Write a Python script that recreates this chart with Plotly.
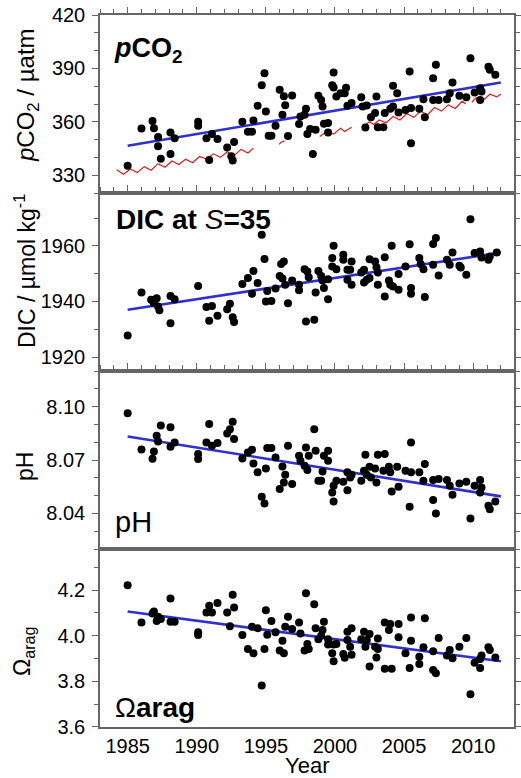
import plotly.graph_objects as go

FONT = "Liberation Sans, Arial, sans-serif"

# ---------------- data ----------------
pco2_year = [1985.0, 1986.0, 1986.8, 1986.9, 1987.2, 1987.2, 1987.4, 1988.1, 1988.4, 1988.1,
             1990.1, 1990.1, 1990.7, 1990.9, 1991.1, 1991.5, 1992.2, 1992.5, 1992.6, 1992.7,
             1993.3, 1993.7, 1994.0, 1994.1, 1994.4, 1994.7, 1994.9, 1995.0, 1995.2, 1995.4,
             1995.7, 1996.0, 1996.2, 1996.3, 1996.4, 1996.6, 1996.9, 1997.5, 1997.4, 1997.9,
             1997.8, 1998.0, 1998.2, 1998.4, 1998.6, 1998.8, 1999.0, 1999.1, 1999.2, 1999.5,
             1999.5, 1999.9, 1999.8, 1999.9, 2000.1, 2000.4, 2000.8, 2000.7, 2000.9, 2001.2,
             2001.9, 2002.0, 2002.2, 2002.3, 2002.6, 2002.9, 2003.0, 2003.1, 2003.5, 2003.6,
             2004.0, 2004.2, 2004.2, 2004.5, 2004.6, 2005.1, 2005.4, 2005.5, 2005.5, 2006.1,
             2006.4, 2006.5, 2007.1, 2007.1, 2007.3, 2007.5, 2008.1, 2008.3, 2008.5, 2009.0,
             2009.5, 2009.8, 2010.1, 2010.5, 2010.5, 2010.6, 2011.1, 2011.2, 2011.6]
pco2_val = [335.3, 356.3, 360.4, 356.4, 351.4, 346.2, 339.3, 354.0, 350.7, 341.9,
            360.0, 357.8, 350.7, 338.5, 353.1, 350.3, 345.6, 340.6, 338.3, 348.6,
            360.0, 354.4, 354.4, 360.7, 369.0, 380.6, 387.3, 365.8, 352.1, 352.1,
            357.8, 378.0, 363.9, 374.4, 369.3, 352.0, 374.8, 363.0, 358.7, 367.3,
            363.9, 353.1, 355.9, 341.9, 355.5, 374.6, 372.3, 368.6, 358.9, 354.0,
            359.3, 387.7, 380.6, 379.3, 374.2, 376.1, 379.1, 376.1, 369.0, 370.5,
            373.8, 368.6, 356.8, 369.2, 362.6, 364.9, 374.2, 357.0, 357.0, 364.9,
            367.3, 380.2, 368.6, 376.1, 365.2, 366.7, 388.2, 367.7, 348.0, 367.3,
            372.7, 362.6, 384.5, 372.3, 392.0, 372.3, 372.7, 376.1, 382.1, 374.6,
            373.8, 395.7, 376.4, 378.9, 372.3, 377.0, 391.0, 389.2, 386.4]

# red curve (gaps as None)
red_year = [1984.2, 1984.7, 1985.2, 1985.7, 1986.2, 1986.7, 1987.2, 1987.7, 1988.2, 1988.7,
            1989.2, 1989.7, 1990.2, 1990.7, 1991.2, 1991.7, 1992.2, 1992.7, 1993.2, 1993.7,
            1994.1, None,
            1995.95, 1996.1, 1996.35, None,
            1998.9, 1999.4, 1999.9, 2000.4, 2000.7, 2001.2, None,
            2002.2, 2002.5, 2002.8, 2003.2, 2003.7, 2004.2, 2004.7, 2005.2, 2005.7, 2006.2,
            2006.7, 2007.2, 2007.7, 2008.2, 2008.7, 2009.2, 2009.45, None,
            2009.9, 2010.2, 2010.7, 2011.2, 2011.7, 2012.0]
red_val = [333.0, 330.5, 333.5, 331.5, 334.8, 332.8, 336.5, 334.5, 338.0, 336.0,
           339.0, 337.0, 340.5, 339.0, 342.0, 340.0, 343.0, 341.0, 344.5, 342.5,
           345.2, None,
           347.3, 348.5, 349.3, None,
           351.8, 354.6, 353.1, 356.4, 354.6, 357.0, None,
           358.5, 360.0, 358.5, 361.0, 359.5, 363.0, 361.0, 364.5, 362.5, 366.0,
           364.0, 368.0, 366.0, 369.5, 367.5, 371.5, 370.0, None,
           371.0, 373.5, 372.0, 375.5, 374.0, 375.5]

dic_year = [1985.0, 1986.0, 1986.7, 1986.9, 1987.1, 1987.2, 1987.3, 1988.1, 1988.1, 1988.4,
            1990.1, 1990.7, 1990.9, 1991.1, 1991.5, 1992.2, 1992.4, 1992.6, 1992.7, 1993.3,
            1993.7, 1994.0, 1994.1, 1994.4, 1994.7, 1994.9, 1995.0, 1995.1, 1995.4, 1995.7,
            1996.0, 1996.2, 1996.1, 1996.3, 1996.4, 1996.6, 1996.9, 1997.4, 1997.4, 1997.9,
            1997.8, 1998.0, 1998.1, 1998.5, 1998.6, 1998.8, 1999.0, 1999.1, 1999.2, 1999.5,
            1999.5, 1999.9, 1999.8, 1999.8, 2000.1, 2000.6, 2000.6, 2000.9, 2000.9, 2001.1,
            2001.2, 2001.2, 2001.9, 2002.1, 2002.1, 2002.3, 2002.5, 2002.5, 2002.9, 2003.0,
            2003.1, 2003.1, 2003.6, 2003.6, 2003.9, 2004.0, 2004.1, 2004.2, 2004.6, 2004.6,
            2005.1, 2005.4, 2005.5, 2005.5, 2006.1, 2006.2, 2006.4, 2006.5, 2007.1, 2007.3,
            2007.1, 2007.5, 2008.1, 2008.3, 2008.5, 2009.0, 2009.1, 2009.5, 2009.8, 2010.1,
            2010.5, 2010.6, 2011.1, 2011.2, 2011.7]
dic_val = [1927.8, 1943.2, 1940.6, 1939.4, 1941.2, 1938.2, 1936.8, 1932.2, 1942.0, 1940.8,
           1945.6, 1938.0, 1933.1, 1938.4, 1934.9, 1937.2, 1939.2, 1934.3, 1932.6, 1946.3,
           1948.4, 1942.8, 1951.0, 1946.6, 1964.0, 1955.3, 1940.0, 1943.8, 1940.2, 1944.7,
           1949.2, 1948.3, 1953.5, 1954.4, 1946.0, 1939.4, 1947.5, 1946.0, 1944.0, 1932.8,
           1951.6, 1950.8, 1948.7, 1933.4, 1943.2, 1951.0, 1949.2, 1947.5, 1944.8, 1940.8,
           1948.0, 1960.0, 1955.6, 1952.6, 1951.6, 1956.8, 1955.0, 1951.4, 1947.8, 1951.4,
           1954.4, 1946.0, 1950.4, 1951.4, 1946.8, 1947.8, 1948.4, 1955.2, 1954.4, 1952.3,
           1950.4, 1946.0, 1941.8, 1955.9, 1947.5, 1946.0, 1960.0, 1945.4, 1944.2, 1949.9,
           1952.6, 1960.6, 1944.8, 1942.8, 1955.6, 1953.5, 1951.6, 1941.6, 1960.7, 1962.8,
           1953.2, 1949.3, 1955.0, 1953.2, 1957.6, 1952.8, 1952.2, 1949.6, 1969.6, 1957.4,
           1958.0, 1955.8, 1955.0, 1956.2, 1957.6]

ph_year = [1985.0, 1986.0, 1986.8, 1986.9, 1987.1, 1987.2, 1987.4, 1988.1, 1988.1, 1988.4,
           1990.1, 1990.1, 1990.7, 1990.9, 1991.1, 1991.5, 1992.2, 1992.4, 1992.6, 1992.7,
           1993.3, 1993.7, 1994.0, 1994.1, 1994.4, 1994.7, 1994.9, 1995.0, 1995.1, 1995.4,
           1995.7, 1996.0, 1996.2, 1996.3, 1996.4, 1996.6, 1996.9, 1997.4, 1997.5, 1997.9,
           1997.8, 1998.0, 1998.1, 1998.5, 1998.6, 1998.8, 1999.0, 1999.1, 1999.2, 1999.5,
           1999.5, 1999.9, 1999.8, 1999.9, 2000.1, 2000.6, 2000.9, 2000.9, 2001.1, 2001.2,
           2001.9, 2002.1, 2002.2, 2002.3, 2002.5, 2002.6, 2002.9, 2003.0, 2003.1, 2003.6,
           2003.5, 2003.9, 2004.0, 2004.1, 2004.6, 2004.5, 2005.1, 2005.4, 2005.5, 2005.5,
           2006.1, 2006.4, 2006.5, 2007.1, 2007.1, 2007.3, 2007.5, 2008.1, 2008.3, 2008.5,
           2009.0, 2009.5, 2009.8, 2010.1, 2010.5, 2010.5, 2010.6, 2011.1, 2011.2, 2011.6]
ph_val = [8.0963, 8.0760, 8.0708, 8.0749, 8.0837, 8.0805, 8.0895, 8.0884, 8.0775, 8.0799,
          8.0734, 8.0706, 8.0799, 8.0903, 8.0781, 8.0796, 8.0850, 8.0874, 8.0916, 8.0818,
          8.0709, 8.0743, 8.0758, 8.0681, 8.0631, 8.0494, 8.0456, 8.0653, 8.0768, 8.0768,
          8.0715, 8.0537, 8.0664, 8.0574, 8.0617, 8.0781, 8.0565, 8.0724, 8.0696, 8.0771,
          8.0668, 8.0644, 8.0724, 8.0874, 8.0753, 8.0584, 8.0584, 8.0636, 8.0724, 8.0753,
          8.0696, 8.0556, 8.0518, 8.0467, 8.0584, 8.0578, 8.0531, 8.0631, 8.0602, 8.0617,
          8.0584, 8.0640, 8.0730, 8.0617, 8.0662, 8.0602, 8.0653, 8.0574, 8.0730, 8.0734,
          8.0640, 8.0662, 8.0631, 8.0524, 8.0550, 8.0662, 8.0640, 8.0438, 8.0799, 8.0631,
          8.0631, 8.0584, 8.0678, 8.0588, 8.0475, 8.0400, 8.0593, 8.0588, 8.0556, 8.0505,
          8.0569, 8.0578, 8.0372, 8.0556, 8.0588, 8.0518, 8.0546, 8.0443, 8.0424, 8.0467]

om_year = [1985.0, 1986.0, 1986.8, 1986.9, 1987.1, 1987.2, 1987.4, 1988.1, 1988.1, 1988.4,
           1990.1, 1990.1, 1990.7, 1990.9, 1991.1, 1991.5, 1992.2, 1992.4, 1992.6, 1992.7,
           1993.3, 1993.7, 1994.0, 1994.1, 1994.4, 1994.7, 1994.9, 1995.0, 1995.1, 1995.4,
           1995.7, 1996.0, 1996.2, 1996.3, 1996.4, 1996.6, 1996.9, 1997.4, 1997.5, 1997.9,
           1997.8, 1998.0, 1998.1, 1998.5, 1998.6, 1998.8, 1999.0, 1999.1, 1999.2, 1999.5,
           1999.5, 1999.9, 1999.8, 1999.9, 2000.1, 2000.6, 2000.7, 2000.9, 2000.9, 2001.1,
           2001.2, 2001.2, 2001.9, 2002.1, 2002.2, 2002.3, 2002.5, 2002.5, 2002.9, 2003.0,
           2003.1, 2003.1, 2003.6, 2003.6, 2003.9, 2004.0, 2004.1, 2004.6, 2004.6, 2005.1,
           2005.4, 2005.5, 2005.5, 2006.1, 2006.1, 2006.4, 2006.5, 2007.1, 2007.1, 2007.3,
           2007.5, 2008.1, 2008.3, 2008.5, 2009.0, 2009.5, 2009.8, 2010.1, 2010.5, 2010.5,
           2010.6, 2011.1, 2011.2, 2011.6]
om_val = [4.221, 4.058, 4.097, 4.106, 4.065, 4.083, 4.073, 4.163, 4.061, 4.061,
          4.015, 4.003, 4.102, 4.131, 4.102, 4.143, 4.102, 4.041, 4.179, 4.124,
          4.003, 3.942, 4.039, 3.923, 4.033, 3.782, 3.942, 4.112, 4.004, 4.065,
          4.015, 3.935, 3.978, 3.923, 4.039, 4.083, 4.029, 4.058, 4.010, 4.186,
          3.935, 3.964, 3.942, 4.138, 4.033, 3.985, 4.000, 4.025, 4.061, 3.961,
          3.985, 3.888, 3.923, 3.961, 3.964, 3.920, 3.903, 3.981, 4.017, 3.952,
          3.916, 4.033, 3.985, 4.017, 3.952, 3.981, 4.007, 3.865, 3.952, 3.905,
          3.942, 3.988, 4.058, 3.855, 4.025, 4.051, 3.855, 4.051, 3.993, 3.923,
          3.859, 4.080, 3.978, 3.908, 3.876, 3.949, 4.077, 3.932, 3.850, 3.836,
          3.990, 3.913, 3.937, 3.901, 3.952, 3.990, 3.743, 3.881, 3.859, 3.898,
          3.913, 3.949, 3.937, 3.905]

trend_year = [1985.0, 2012.0]
pco2_trend = [346.5, 382.1]
dic_trend = [1937.0, 1957.6]
ph_trend = [8.0833, 8.0496]
om_trend = [4.106, 3.888]

# ---------------- figure ----------------
BLUE = "#3030CC"
RED = "#E01B1B"
AX = "#666666"

fig = go.Figure()

panels = [
    ("x", "y", pco2_year, pco2_val, pco2_trend),
    ("x2", "y2", dic_year, dic_val, dic_trend),
    ("x3", "y3", ph_year, ph_val, ph_trend),
    ("x4", "y4", om_year, om_val, om_trend),
]

fig.add_trace(go.Scatter(x=red_year, y=red_val, mode="lines", xaxis="x", yaxis="y",
                         line=dict(color=RED, width=1.2), connectgaps=False,
                         showlegend=False, hoverinfo="skip"))
for xa, ya, xs, ys, tr in panels:
    fig.add_trace(go.Scatter(x=trend_year, y=tr, mode="lines", xaxis=xa, yaxis=ya,
                             line=dict(color=BLUE, width=2.6), showlegend=False))
    fig.add_trace(go.Scatter(x=xs, y=ys, mode="markers", xaxis=xa, yaxis=ya,
                             marker=dict(color="black", size=8), showlegend=False))

XR = [1983.0, 2012.95]
tickfont = dict(family=FONT, size=20, color="black")
MINOR_X = dict(ticks="outside", dtick=1, tick0=1985, ticklen=4, tickwidth=1.2, tickcolor=AX)

def xaxis(anchor):
    # upper edge of each panel carries outward ticks; lower edge only the frame line
    return dict(range=XR, anchor=anchor, showgrid=False, zeroline=False, automargin=False,
                showline=True, linecolor=AX, linewidth=1.5, side="top", mirror=True,
                ticks="outside", ticklen=6, tickwidth=1.2, tickcolor=AX,
                tick0=1985, dtick=5, minor=MINOR_X, showticklabels=False)

def yaxis(anchor, dom, rng, tick0, dtick, mtick, fmt):
    return dict(domain=dom, range=rng, anchor=anchor, showgrid=False, zeroline=False,
                automargin=False,
                showline=True, linecolor=AX, linewidth=1.5, mirror="ticks",
                ticks="outside", ticklen=6, tickwidth=1.2, tickcolor=AX,
                tick0=tick0, dtick=dtick, tickformat=fmt, ticklabelstandoff=3,
                minor=dict(ticks="outside", dtick=mtick, tick0=tick0, ticklen=4,
                           tickwidth=1.2, tickcolor=AX),
                tickfont=tickfont)

fig.update_layout(
    width=521, height=778,
    margin=dict(l=100, r=7, t=15, b=51),
    paper_bgcolor="white", plot_bgcolor="white",
    font=dict(family=FONT, color="black"),
    showlegend=False,
    xaxis=xaxis("y"),
    xaxis2=xaxis("y2"),
    xaxis3=xaxis("y3"),
    # bottom panel: labelled axis (no ticks) + overlaid tick-only axis
    xaxis4=dict(range=XR, anchor="y4", showgrid=False, zeroline=False, automargin=False,
                showline=True, linecolor=AX, linewidth=1.5, side="bottom", mirror=True,
                ticks="", tick0=1985, dtick=5, showticklabels=True,
                ticklabelstandoff=0, tickfont=tickfont),
    xaxis5=dict(range=XR, anchor="y4", overlaying="x4", showgrid=False, zeroline=False,
                automargin=False, showline=False, side="bottom", mirror="ticks",
                ticks="outside", ticklen=6, tickwidth=1.2, tickcolor=AX,
                tick0=1985, dtick=5, minor=MINOR_X, showticklabels=False),
    yaxis=yaxis("x", [0.75, 1.0], [320, 420.01], 330, 30, 10, "d"),
    yaxis2=yaxis("x2", [0.5, 0.75], [1915, 1979], 1920, 20, 10, "d"),
    yaxis3=yaxis("x3", [0.25, 0.5], [8.02, 8.1201], 8.04, 0.03, 0.01, ".2f"),
    yaxis4=yaxis("x4", [0.0, 0.25], [3.5999, 4.38], 3.6, 0.2, 0.1, ".1f"),
)

# page-pixel -> paper coordinates (plot area spans x 100..514, y 15..727)
PL, PW, PT, PH = 100, 414, 15, 712
def px2paper(xp, yp):
    return (xp - PL) / PW, (PT + PH - yp) / PH

ann = []
def add(text, xp, yp, size, xanchor="center", angle=0):
    x, y = px2paper(xp, yp)
    ann.append(dict(text=text, x=x, y=y, xref="paper", yref="paper",
                    xanchor=xanchor, yanchor="middle", showarrow=False,
                    textangle=angle, font=dict(family=FONT, size=size, color="black")))

# y titles
add("<i>p</i>CO<sub>2</sub> / µatm", 27, 95, 24, angle=-90)
add("DIC / µmol kg<sup>-1</sup>", 25, 271, 23, angle=-90)
add("pH", 25, 467, 23, angle=-90)
add("Ω<sub>arag</sub>", 23, 652, 23, angle=-90)
# x title
add("Year", 307, 765, 22)
# panel labels
add("<b><i>p</i>CO<sub>2</sub></b>", 112, 50, 27, xanchor="left")
add("<b>DIC at </b><i>S</i><b>=35</b>", 114, 219, 28, xanchor="left")
add("pH", 113, 522, 29, xanchor="left")
add("Ω<b>arag</b>", 113, 707, 28, xanchor="left")

fig.update_layout(annotations=ann)
fig.write_html("out.html", config={"displayModeBar": False},
               post_script="document.body.style.margin='0px';document.body.style.overflow='hidden';")
